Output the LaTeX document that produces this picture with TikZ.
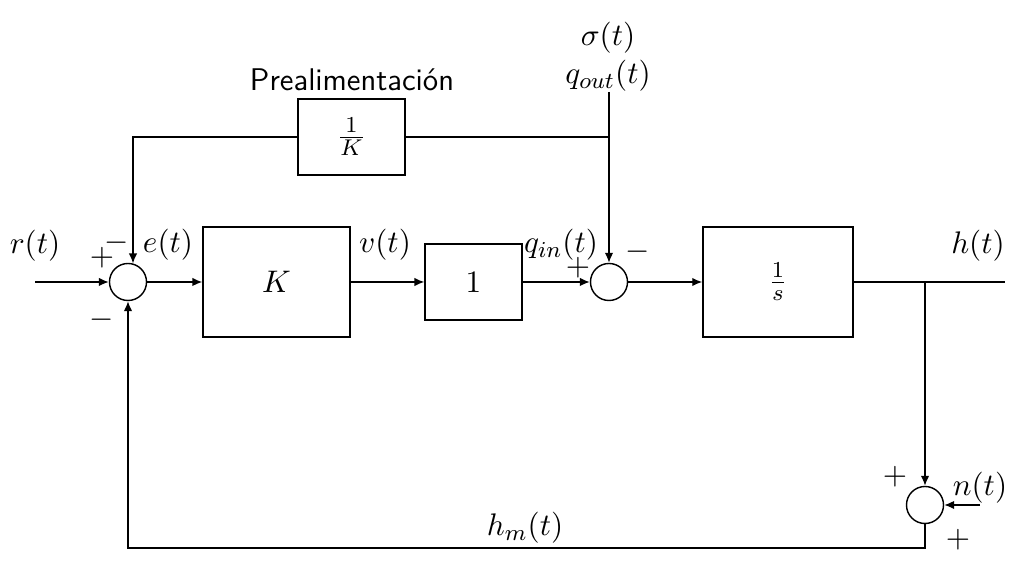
\documentclass[tikz,border=0pt]{standalone}
\usetikzlibrary{arrows.meta}
\tikzset{
  blk/.style={draw, line width=0.5pt, inner sep=0pt},
  sumc/.style={draw, circle, line width=0.5pt, minimum size=13pt, inner sep=0pt},
  sig/.style={line width=0.5pt},
  arr/.style={sig, -{Latex[length=3.5pt,width=3pt]}},
  lab/.style={inner sep=0pt}
}
\begin{document}
\begin{tikzpicture}[x=0.351pt, y=-0.351pt, font=\fontsize{11}{13}\selectfont]
\useasboundingbox (0,0) rectangle (1025,561);
% blocks
\node[blk, minimum width=51.6pt, minimum height=38.6pt] (K) at (276.5,282) {$K$};
\node[blk, minimum width=34pt, minimum height=26.7pt] (one) at (473.5,282) {$1$};
\node[blk, minimum width=52.7pt, minimum height=38.6pt] (G) at (778,282) {$\frac{1}{s}$};
\node[blk, minimum width=37.6pt, minimum height=26.7pt] (ffK) at (351.5,137) {$\frac{1}{K}$};
% sums
\node[sumc] (s1) at (128,282) {};
\node[sumc] (s2) at (609,282) {};
\node[sumc] (s3) at (925,505) {};
% coordinates
\coordinate (in) at (35,282);
\coordinate (out) at (1005,282);
\coordinate (br) at (925,282);
\coordinate (nin) at (980,505);
\coordinate (fb) at (128,548);
\coordinate (ffR) at (609,137);
\coordinate (qo) at (609,92);
% connectors
\draw[arr] (in) -- (s1);
\draw[arr] (s1) -- (K.west);
\draw[arr] (K.east) -- (one.west);
\draw[arr] (one.east) -- (s2);
\draw[arr] (s2) -- (G.west);
\draw[sig] (G.east) -- (out);
\draw[arr] (br) -- (s3);
\draw[arr] (nin) -- (s3);
\draw[arr] (s3.south) |- (fb) -- (s1.south);
\draw[sig] (qo) -- (ffR);
\draw[arr] (ffR) -- (s2.north);
\draw[sig] (ffR) -- (ffK.east);
\draw[arr] (ffK.west) -| (s1.75);
% labels
\node[lab] (lr) at (35,246) {$r(t)$};
\node[lab] (lp1) at (102,258) {$+$};
\node[lab] (lm1) at (117,243) {$-$};
\node[lab] (le) at (168,245) {$e(t)$};
\node[lab] (lm1b) at (102,320) {$-$};
\node[lab] (lv) at (385,245) {$v(t)$};
\node[lab] (lqi) at (561,245) {$q_{in}(t)$};
\node[lab] (lp2) at (578,268) {$+$};
\node[lab] (lm2) at (638,252) {$-$};
\node[lab] (lh) at (978,246) {$h(t)$};
\node[lab] (lp3) at (895,477) {$+$};
\node[lab] (ln) at (980,488) {$n(t)$};
\node[lab] (lp3b) at (958,540) {$+$};
\node[lab] (lhm) at (525,528) {$h_m(t)$};
\node[lab] (lqo) at (608,76) {$q_{out}(t)$};
\node[lab] (lsig) at (608,38) {$\sigma(t)$};
\node[lab] (lpre) at (352,80) {\sffamily Prealimentación};
\end{tikzpicture}
\end{document}
